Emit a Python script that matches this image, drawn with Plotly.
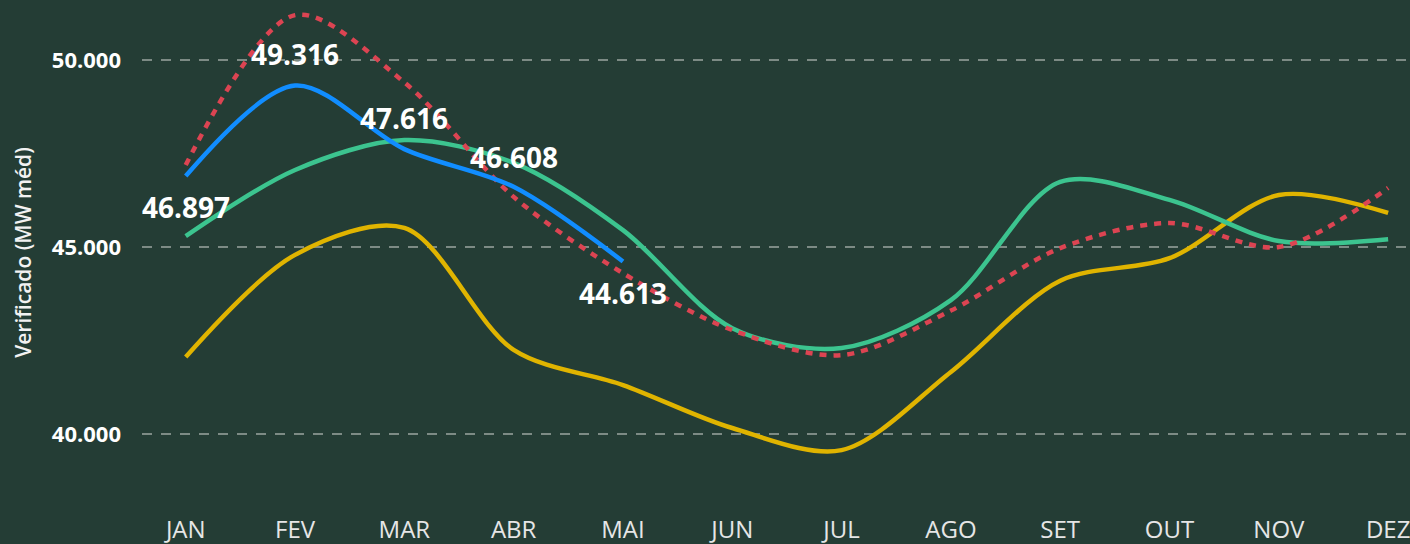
import plotly.graph_objects as go

months = ["JAN", "FEV", "MAR", "ABR", "MAI", "JUN", "JUL", "AGO", "SET", "OUT", "NOV", "DEZ"]

verificado = [46897, 49316, 47616, 46608, 44613]
tracejada = [47190, 51200, 49400, 46340, 44300, 42780, 42110, 43300, 44970, 45640, 45000, 46580]
verde = [45290, 47060, 47860, 47250, 45450, 42830, 42300, 43580, 46740, 46260, 45160, 45210]
amarela = [42060, 44790, 45510, 42250, 41310, 40160, 39570, 41660, 44100, 44700, 46390, 45910]

label_shift = [-31, 32, 31, 30, -32]

BG = "#243d35"

fig = go.Figure()
fig.add_trace(go.Scatter(x=months, y=amarela, mode="lines",
                         line=dict(color="#e0b400", width=4.5, shape="spline", smoothing=0.9)))
fig.add_trace(go.Scatter(x=months, y=verde, mode="lines",
                         line=dict(color="#3cc48f", width=4.5, shape="spline", smoothing=0.9)))
fig.add_trace(go.Scatter(x=months, y=tracejada, mode="lines",
                         line=dict(color="#dc4452", width=4.5, shape="spline", smoothing=0.9, dash="7px,7px")))
fig.add_trace(go.Scatter(x=months[:len(verificado)], y=verificado, mode="lines",
                         line=dict(color="#118dff", width=4.5, shape="spline", smoothing=0.9)))

for m, v, s in zip(months, verificado, label_shift):
    fig.add_annotation(x=m, y=v, xref="x", yref="y", yshift=s, showarrow=False,
                       text=f"{v:,}".replace(",", "."),
                       font=dict(family="Open Sans", size=28, color="#ffffff", weight="bold"))

fig.update_layout(
    width=1410, height=544,
    paper_bgcolor=BG, plot_bgcolor=BG,
    margin=dict(l=142, r=0, t=0, b=39),
    showlegend=False,
    hovermode=False,
    separators=",.",
    xaxis=dict(
        type="category", range=[-0.4, 11.2], showgrid=False, zeroline=False, showline=False,
        tickfont=dict(family="Open Sans", size=24, color="#e6e6e6"), ticks="", ticklabelstandoff=8,
    ),
    yaxis=dict(
        range=[38102, 51604], tickvals=[40000, 45000, 50000], ticktext=["40.000", "45.000", "50.000"],
        showgrid=True, gridcolor="#7d8b85", gridwidth=1.5, griddash="10px,9px", zeroline=False,
        showline=False, ticks="", ticklabelstandoff=20,
        tickfont=dict(family="Open Sans", size=22, color="#ffffff", weight="bold"),
        title=dict(text="Verificado (MW méd)", standoff=14,
                   font=dict(family="Open Sans", size=21, color="#f2f2f2", weight=600)),
    ),
)
fig.write_html("out.html", config={"displayModeBar": False},
               post_script="document.body.style.margin='0';document.body.style.background='#243d35';")
